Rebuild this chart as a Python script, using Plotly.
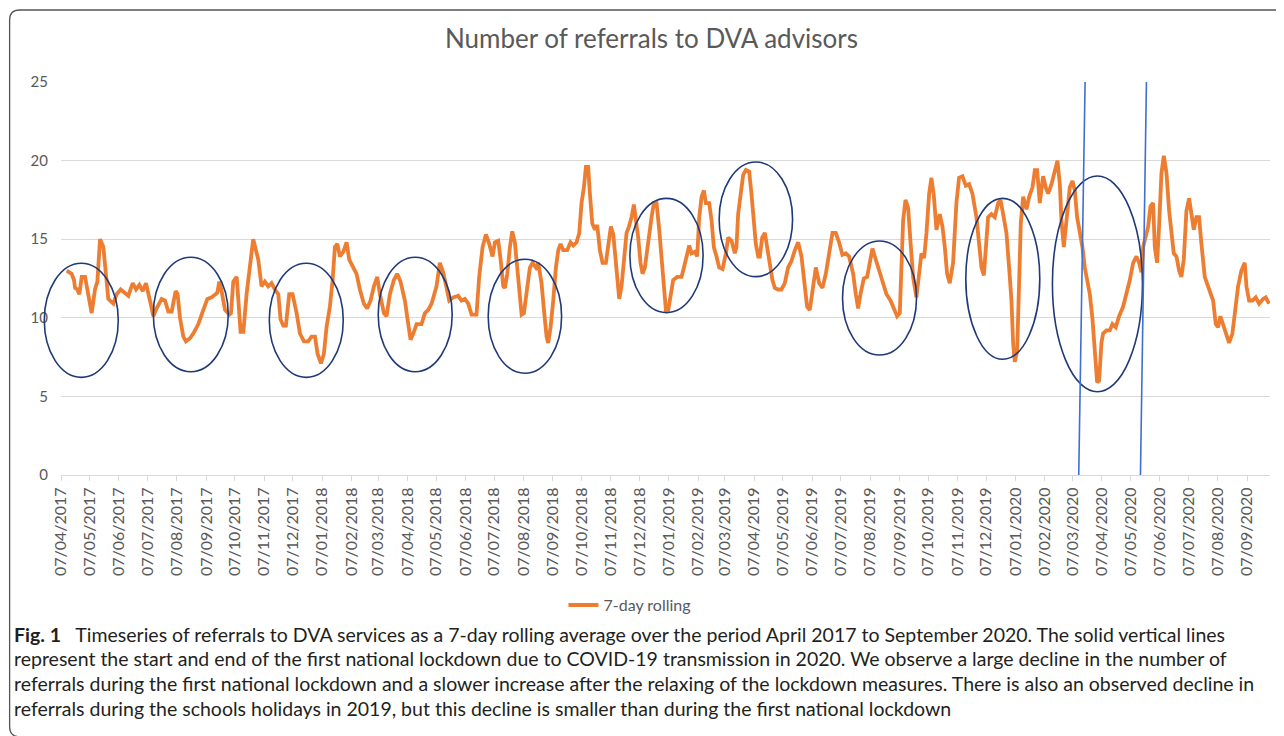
import pandas as pd
import plotly.graph_objects as go

# ---------------- data ----------------
START = pd.Timestamp("2017-04-07")

# days after 07/04/2017 at which each point was read
days = [
    6.0, 11.2, 13.7, 14.8, 17.2, 19.3, 21.8, 25.3, 32.3, 35.8,
    38.3, 41.1, 44.6, 49.8, 55.1, 58.6, 62.8, 67.4, 70.9, 75.5,
    79.0, 82.5, 86.0, 89.5, 92.0, 94.4, 97.2, 100.7, 106.0, 109.5,
    113.0, 116.5, 120.7, 122.8, 125.3, 128.8, 131.6, 135.8, 139.3, 144.6,
    148.1, 150.6, 154.1, 158.6, 162.1, 164.6, 166.7, 169.1, 172.7, 177.2,
    179.0, 181.4, 185.0, 186.7, 189.1, 192.0,
    195.4, 202.4, 207.7, 211.2, 214.7, 218.2, 221.7, 225.2, 228.8, 231.2,
    234.0, 236.8, 240.3, 243.8, 248.1, 251.6, 255.8, 260.3, 263.8, 267.4,
    270.2, 273.7, 276.8, 279.6, 283.1, 286.0, 288.4, 290.9, 293.7, 297.2,
    300.7, 303.5, 307.7, 311.2, 314.7, 318.9, 322.4, 326.0, 329.5, 333.0,
    335.8, 340.0, 342.8, 346.3, 350.5, 354.0, 357.5, 362.1, 365.6, 368.1,
    370.9, 374.4, 379.6, 383.2, 386.7, 390.2, 395.4, 398.9, 402.4, 405.3,
    408.8, 413.0, 418.2, 421.7, 425.3, 428.8, 432.3, 437.5, 440.3, 443.9,
    447.4,
    450.9, 454.4, 456.9, 460.4, 462.9, 465.7, 467.4, 469.9, 472.7, 475.1,
    477.9, 480.4, 482.5, 485.0, 487.4, 490.2, 493.7, 496.5, 500.1, 502.5,
    506.0, 508.5, 511.3, 513.0, 515.5, 518.3, 521.1, 523.6, 526.0, 528.8,
    533.0, 536.5, 539.4, 542.9, 545.7, 548.1, 550.6, 552.7, 555.1, 556.9,
    559.4, 562.2, 564.6, 567.4, 570.2, 573.7, 576.2, 579.0, 581.5, 583.9,
    586.0, 587.8, 590.2, 592.7, 595.5, 598.0, 600.8, 603.2, 605.3, 607.8,
    610.2, 612.3, 614.8, 618.3, 621.8, 624.3, 627.1, 629.9, 632.3, 634.8,
    636.9, 639.4, 641.8, 644.6, 648.8, 653.4, 655.9, 658.7, 661.5, 663.9,
    667.4, 669.9, 672.0, 674.5, 676.9, 679.0, 682.5, 685.0, 687.4, 690.2,
    693.0, 696.6, 700.1, 702.5, 706.0, 709.5,
    711.2, 713.0, 715.5, 718.3, 721.1, 724.6, 727.0, 729.5, 731.6, 734.1,
    735.8, 738.3, 741.1, 743.5, 746.3, 749.1, 751.6, 755.1, 758.6, 762.1,
    765.6, 769.1, 772.7, 776.2, 779.7, 783.2, 785.6, 788.4, 791.3, 794.8,
    798.3, 801.8, 805.3, 808.8, 812.3, 815.8, 819.3, 822.8, 826.3, 829.8,
    834.1, 836.9, 839.3, 841.8, 845.3, 848.8, 851.6, 854.4, 856.9, 860.4,
    865.0, 869.2, 873.4, 876.9, 880.4, 883.2, 885.0, 886.7, 889.2, 892.0,
    894.4, 897.2, 900.7, 903.5, 906.0, 908.8, 911.3, 914.1, 916.5, 919.0,
    921.8, 925.3, 928.1, 930.6, 933.0, 935.8, 939.3, 942.8, 945.6, 949.2,
    952.7, 956.2, 959.7, 963.9,
    966.8, 969.2, 971.7, 973.8, 976.2, 979.7, 983.2, 986.8, 989.2, 992.0,
    995.5, 998.3, 1000.8, 1002.5, 1004.3, 1006.8, 1008.9, 1010.6, 1013.1, 1016.6,
    1019.4, 1022.9, 1025.4, 1027.8, 1030.6, 1034.1, 1036.9, 1039.4, 1042.9, 1046.4,
    1049.2, 1051.7, 1053.4, 1055.9, 1058.7, 1062.2, 1065.0, 1067.5, 1069.9, 1072.7,
    1075.5, 1078.0, 1080.4, 1083.3, 1086.1, 1088.5, 1091.0, 1093.1, 1095.5, 1097.3,
    1100.8, 1104.3, 1107.1, 1110.6, 1114.1, 1118.3, 1121.9, 1125.4, 1128.9, 1132.4,
    1135.2, 1137.6, 1139.4, 1142.2, 1144.7, 1147.1, 1149.9, 1151.7, 1154.1, 1156.2,
    1158.7, 1161.2, 1164.0, 1166.8, 1169.2, 1171.7, 1174.5, 1177.3, 1179.7, 1182.2,
    1185.0, 1187.8, 1190.3, 1192.7, 1195.5, 1198.3, 1200.8, 1204.3, 1207.8, 1210.3,
    1213.1, 1215.9, 1218.3, 1220.8, 1223.6, 1226.4, 1229.9, 1233.4, 1236.9, 1239.4,
    1242.9, 1246.4, 1248.2, 1251.0, 1254.5, 1258.0, 1261.5, 1265.7, 1268.5, 1272.0,
]

# 7-day rolling number of referrals
referrals = [
    13.0, 12.8, 12.4, 11.9, 11.8, 11.5, 12.6, 12.6, 10.3, 11.8,
    12.3, 15.0, 14.5, 11.2, 10.9, 11.5, 11.8, 11.6, 11.4, 12.2,
    11.8, 12.1, 11.7, 12.2, 11.6, 10.9, 10.1, 10.6, 11.2, 11.1,
    10.4, 10.4, 11.7, 11.5, 10.0, 8.8, 8.5, 8.7, 9.0, 9.6,
    10.2, 10.6, 11.2, 11.3, 11.5, 11.6, 12.3, 11.7, 10.5, 10.2,
    10.3, 12.3, 12.6, 11.1, 9.1, 9.1,
    11.5, 15.0, 13.7, 12.0, 12.3, 12.0, 12.2, 11.8, 11.5, 9.9,
    9.5, 9.5, 11.5, 11.5, 10.3, 9.0, 8.5, 8.5, 8.8, 8.8,
    7.7, 7.1, 7.7, 9.4, 10.7, 12.4, 14.5, 14.7, 13.9, 14.2,
    14.8, 13.7, 13.2, 12.8, 11.8, 10.9, 10.6, 11.1, 12.0, 12.6,
    11.5, 10.3, 10.1, 11.5, 12.4, 12.8, 12.3, 11.1, 9.6, 8.6,
    9.0, 9.6, 9.6, 10.3, 10.5, 10.9, 12.0, 13.5, 12.9, 12.0,
    11.1, 11.3, 11.4, 11.1, 11.2, 10.9, 10.2, 10.2, 12.6, 14.5,
    15.3,
    14.7, 13.9, 14.8, 14.9, 13.7, 12.0, 11.9, 12.8, 14.5, 15.5,
    14.8, 13.2, 11.5, 10.2, 10.3, 11.8, 13.2, 13.5, 13.2, 13.5,
    12.2, 10.5, 8.8, 8.4, 9.4, 11.1, 13.2, 14.3, 14.7, 14.3,
    14.3, 14.8, 14.6, 14.8, 15.4, 17.3, 18.3, 19.6, 19.6, 17.9,
    16.0, 15.6, 15.9, 14.3, 13.5, 13.5, 14.5, 15.8, 15.3, 13.7,
    12.0, 11.2, 12.0, 13.7, 15.4, 15.8, 16.4, 17.2, 16.4, 15.1,
    13.5, 12.8, 13.2, 14.9, 16.4, 17.3, 17.3, 15.6, 13.7, 11.5,
    10.5, 10.5, 11.5, 12.4, 12.6, 12.6, 13.2, 13.9, 14.6, 14.1,
    14.2, 13.9, 16.4, 17.7, 18.1, 17.3, 17.3, 16.2, 14.5, 13.9,
    13.2, 13.1, 14.1, 15.1, 14.9, 14.1,
    14.5, 16.6, 17.9, 19.1, 19.4, 19.3, 17.9, 16.4, 14.7, 13.9,
    13.9, 15.1, 15.4, 14.5, 13.5, 12.4, 11.9, 11.8, 11.8, 12.2,
    13.2, 13.6, 14.3, 14.8, 13.9, 12.2, 10.7, 10.5, 11.8, 13.2,
    12.2, 11.9, 12.8, 14.3, 15.4, 15.4, 14.8, 14.0, 14.1, 13.9,
    12.8, 11.5, 10.6, 11.5, 12.5, 12.6, 13.5, 14.4, 13.9, 13.2,
    12.4, 11.5, 11.1, 10.6, 10.1, 10.3, 12.8, 16.2, 17.5, 17.0,
    14.9, 12.6, 11.3, 13.0, 14.1, 13.8, 15.4, 17.9, 18.9, 17.8,
    15.6, 16.6, 15.8, 14.5, 12.8, 12.2, 13.5, 17.3, 18.9, 19.0,
    18.4, 18.5, 17.9, 16.4,
    14.5, 13.2, 12.7, 14.5, 16.4, 16.6, 16.4, 17.3, 17.5, 16.6,
    15.4, 13.2, 11.1, 8.4, 7.2, 7.9, 11.5, 16.0, 17.7, 16.9,
    17.7, 18.3, 19.4, 19.4, 17.3, 19.0, 18.3, 17.9, 18.5, 19.4,
    20.0, 18.5, 16.2, 14.5, 16.0, 18.3, 18.7, 18.1, 16.4, 15.4,
    14.5, 13.2, 12.4, 11.5, 9.9, 8.2, 5.9, 6.0, 8.4, 9.0,
    9.2, 9.2, 9.6, 9.4, 10.1, 10.7, 11.5, 12.4, 13.5, 13.9,
    13.5, 12.9, 14.5, 15.1, 15.8, 17.1, 17.3, 14.5, 13.5, 15.8,
    19.2, 20.3, 19.2, 16.8, 15.4, 14.1, 13.9, 13.0, 12.6, 13.7,
    16.8, 17.6, 16.6, 15.6, 16.4, 16.4, 14.7, 12.6, 12.0, 11.5,
    11.1, 9.6, 9.4, 10.1, 9.6, 9.0, 8.4, 9.0, 10.7, 12.0,
    13.0, 13.5, 12.0, 11.1, 11.1, 11.3, 10.9, 11.2, 11.3, 10.9,
]
assert len(days) == len(referrals)

series_name = "7-day rolling"
title_text = "Number of referrals to DVA advisors"
y_ticks = [0, 5, 10, 15, 20, 25]

# x tick labels: the 7th of each month, April 2017 .. September 2020
tick_dates = pd.date_range("2017-04-01", "2020-09-01", freq="MS") + pd.Timedelta(days=6)
tick_labels = [d.strftime("%d/%m/%Y") for d in tick_dates]

caption_lines = [
    "<b>Fig. 1</b>&nbsp;&nbsp; Timeseries of referrals to DVA services as a 7-day rolling average over the period April 2017 to September 2020. The solid vertical lines",
    "represent the start and end of the first national lockdown due to COVID-19 transmission in 2020. We observe a large decline in the number of",
    "referrals during the first national lockdown and a slower increase after the relaxing of the lockdown measures. There is also an observed decline in",
    "referrals during the schools holidays in 2019, but this decline is smaller than during the first national lockdown",
]

# ---------------- annotation geometry (hand-drawn marks) ----------------
# ellipses: (start day, end day, low value, high value)
ellipses = [
    (-17.6, 60.3, 6.21, 13.47),
    (97.2, 176.1, 6.57, 13.85),
    (219.3, 297.2, 6.21, 13.47),
    (334.0, 411.9, 6.57, 13.85),
    (449.8, 527.1, 6.47, 13.72),
    (599.0, 676.1, 10.33, 17.60),
    (693.0, 770.3, 12.62, 19.91),
    (822.9, 900.8, 7.63, 14.89),
    (952.7, 1030.6, 7.36, 17.60),
    (1043.9, 1138.7, 5.30, 19.02),
]
# lockdown lines: (day at bottom, day at top)
lockdown_lines = [(1071.6, 1078.3), (1136.6, 1142.9)]

X_END_DAY = 1273
Y_MAX = 25


def day_to_date(d):
    return (START + pd.Timedelta(days=d)).strftime("%Y-%m-%d %H:%M:%S")


dates = START + pd.to_timedelta(days, unit="D")

fig = go.Figure()
fig.add_trace(go.Scatter(
    x=dates, y=referrals, mode="lines", name=series_name,
    line=dict(color="#ED7D31", width=3.8),
))

shapes = []
# ellipses in paper units (so the first one is not clipped at the axis)
for d0, d1, v0, v1 in ellipses:
    shapes.append(dict(type="circle", xref="paper", yref="paper",
                       x0=d0 / X_END_DAY, x1=d1 / X_END_DAY,
                       y0=v0 / Y_MAX, y1=v1 / Y_MAX,
                       line=dict(color="#203A78", width=1.6)))
for db, dt in lockdown_lines:
    shapes.append(dict(type="line", xref="x", yref="y",
                       x0=day_to_date(db), y0=0, x1=day_to_date(dt), y1=Y_MAX,
                       line=dict(color="#3F6FD0", width=1.6)))

# rounded frame around the figure
L, T, B = -0.0425, 1.1832, -0.666
rx, ry = 0.0083, 0.0254
frame_path = (f"M {L + rx},{B} Q {L},{B} {L},{B + ry} L {L},{T - ry} "
              f"Q {L},{T} {L + rx},{T} L 1.03,{T}")
shapes.append(dict(type="path", xref="paper", yref="paper", path=frame_path,
                   line=dict(color="#555555", width=1.3)))

annotations = [dict(text=title_text, xref="paper", yref="paper", x=0.4888, y=1.112,
                    xanchor="center", yanchor="middle", showarrow=False,
                    font=dict(family="Lato", size=26, color="#595959"))]
cap_y = [-0.4046, -0.468, -0.5318, -0.593]
for line, yy in zip(caption_lines, cap_y):
    annotations.append(dict(text=line, xref="paper", yref="paper", x=-0.0405, y=yy,
                            xanchor="left", yanchor="middle", showarrow=False,
                            font=dict(family="Lato", size=19.5, color="#231F20")))

# the page adds an 8px body margin, so the figure is 8px smaller and margins shifted
fig.update_layout(
    width=1276, height=728,
    margin=dict(l=53, r=14, t=74, b=261),
    paper_bgcolor="white", plot_bgcolor="white",
    showlegend=True,
    legend=dict(orientation="h", x=0.4706, xanchor="center", y=-0.331, yanchor="middle",
                font=dict(family="Lato", size=16, color="#595959")),
    shapes=shapes,
    annotations=annotations,
    xaxis=dict(type="date", range=[START, START + pd.Timedelta(days=X_END_DAY)],
               tickmode="array", tickvals=tick_dates, ticktext=tick_labels,
               tickangle=-90, ticks="outside", ticklen=5, tickcolor="#D9D9D9",
               showline=True, linecolor="#D9D9D9", linewidth=1, showgrid=False,
               zeroline=False,
               tickfont=dict(family="Lato", size=16, color="#595959")),
    yaxis=dict(range=[0, Y_MAX], tickmode="array", tickvals=y_ticks,
               showgrid=True, gridcolor="#D9D9D9", gridwidth=1,
               zeroline=False, showline=False, ticks="", ticklabelstandoff=12,
               tickfont=dict(family="Lato", size=15, color="#595959")),
)

fig.write_html("out.html")
